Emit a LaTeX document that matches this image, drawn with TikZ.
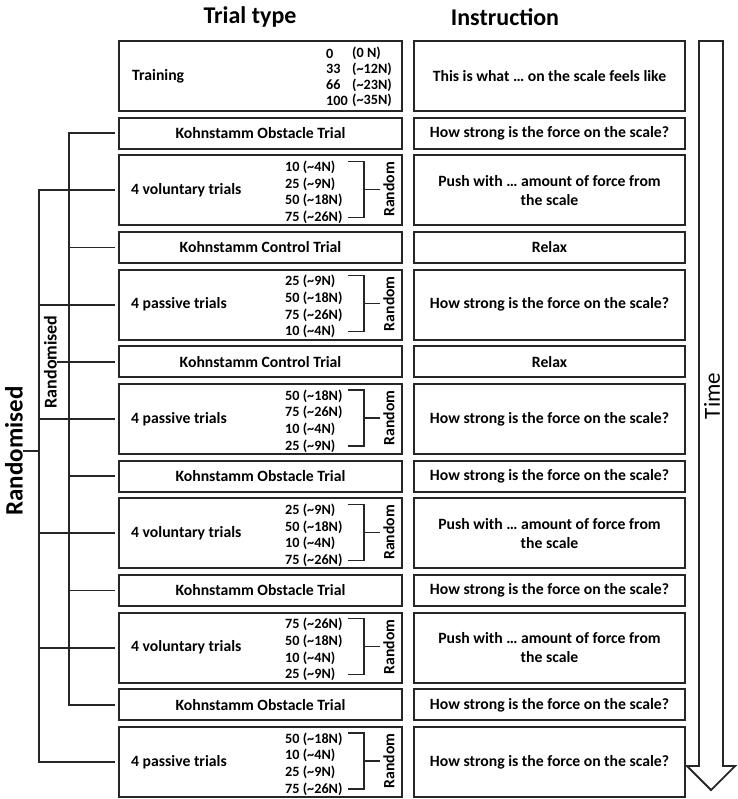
\documentclass[tikz,border=0pt]{standalone}
\usepackage{fontspec}
\setmainfont{Carlito}
\usetikzlibrary{positioning}
\definecolor{boxgray}{gray}{0.15}
\newcommand{\approxN}[1]{(\textasciitilde#1N)}
\tikzstyle{trial} = [
 rectangle,
 draw=boxgray,
 line width=1.8pt,
 minimum width=283pt,
 inner sep=0pt,
 outer sep=0pt,
 align=center,
 font=\fontsize{15.7}{19.5}\selectfont\bfseries
]
\tikzstyle{short} = [trial, minimum height=31pt]
\tikzstyle{tall} = [trial, minimum height=70pt]
\tikzstyle{instr} = [minimum width=271pt]
\tikzstyle{trialname} = [
 anchor=west,
 inner sep=0pt,
 font=\fontsize{15.7}{19.5}\selectfont\bfseries
]
\tikzstyle{values} = [
 anchor=west,
 align=left,
 inner sep=0pt,
 font=\fontsize{14.2}{16.7}\selectfont\bfseries
]
\tikzstyle{bracket} = [draw=boxgray, line width=1.8pt]
\tikzstyle{heading} = [font=\fontsize{24}{28}\selectfont\bfseries]

\begin{document}
\begin{tikzpicture}[x=1pt, y=-1pt, node distance=6.67pt]
\useasboundingbox (0,0) rectangle (737,799);

% headings
\node[heading] (hdtype) at (250,17) {Trial type};
\node[heading] (hdinstr) at (505,17) {Instruction};

% trial types
\node[tall] (train) at (260.5,76) {};
\node[short, below=of train] (obs1) {Kohnstamm Obstacle Trial};
\node[tall, below=of obs1] (vol1) {};
\node[short, below=of vol1] (ctl1) {Kohnstamm Control Trial};
\node[tall, below=of ctl1] (pas1) {};
\node[short, below=of pas1] (ctl2) {Kohnstamm Control Trial};
\node[tall, below=of ctl2] (pas2) {};
\node[short, below=of pas2] (obs2) {Kohnstamm Obstacle Trial};
\node[tall, below=of obs2] (vol2) {};
\node[short, below=of vol2] (obs3) {Kohnstamm Obstacle Trial};
\node[tall, below=of obs3] (vol3) {};
\node[short, below=of vol3] (obs4) {Kohnstamm Obstacle Trial};
\node[tall, below=of obs4] (pas3) {};

% names and forces inside the tall boxes
\node[trialname] (train-n) at ([xshift=13pt]train.west) {Training};
\node[values, font=\fontsize{14.2}{15.7}\selectfont\bfseries] (train-a) at ([shift={(207,1)}]train.west) {0\\33\\66\\100};
\node[values, font=\fontsize{14.2}{15.7}\selectfont\bfseries] (train-b) at ([shift={(233,1)}]train.west) {(0 N)\\\approxN{12}\\\approxN{23}\\\approxN{35}};

\node[trialname] (vol1-n) at ([xshift=12pt]vol1.west) {4 voluntary trials};
\node[values] (vol1-v) at ([shift={(166,2)}]vol1.west) {10 \approxN{4}\\25 \approxN{9}\\50 \approxN{18}\\75 \approxN{26}};
\node[trialname] (pas1-n) at ([xshift=12pt]pas1.west) {4 passive trials};
\node[values] (pas1-v) at ([shift={(166,2)}]pas1.west) {25 \approxN{9}\\50 \approxN{18}\\75 \approxN{26}\\10 \approxN{4}};
\node[trialname] (pas2-n) at ([xshift=12pt]pas2.west) {4 passive trials};
\node[values] (pas2-v) at ([shift={(166,2)}]pas2.west) {50 \approxN{18}\\75 \approxN{26}\\10 \approxN{4}\\25 \approxN{9}};
\node[trialname] (vol2-n) at ([xshift=12pt]vol2.west) {4 voluntary trials};
\node[values] (vol2-v) at ([shift={(166,2)}]vol2.west) {25 \approxN{9}\\50 \approxN{18}\\10 \approxN{4}\\75 \approxN{26}};
\node[trialname] (vol3-n) at ([xshift=12pt]vol3.west) {4 voluntary trials};
\node[values] (vol3-v) at ([shift={(166,2)}]vol3.west) {75 \approxN{26}\\50 \approxN{18}\\10 \approxN{4}\\25 \approxN{9}};
\node[trialname] (pas3-n) at ([xshift=12pt]pas3.west) {4 passive trials};
\node[values] (pas3-v) at ([shift={(166,2)}]pas3.west) {50 \approxN{18}\\10 \approxN{4}\\25 \approxN{9}\\75 \approxN{26}};

% random brackets
\foreach \b in {vol1,pas1,pas2,vol2,vol3,pas3} {
  \draw[bracket, line width=1.5pt] ([shift={(229,-29)}]\b.west) -- ++(16,0) -- ++(0,56) -- ++(-16,0);
  \draw[bracket, line width=1.5pt] ([shift={(245,-1)}]\b.west) -- ++(16,0);
  \node[rotate=90, inner sep=0pt, font=\fontsize{15.7}{19}\selectfont\bfseries] (\b-r) at ([shift={(270,-1)}]\b.west) {Random};
}

% instructions
\node[tall, instr, right=12pt of train] (train-i) {This is what … on the scale feels like};
\node[short, instr, right=12pt of obs1] (obs1-i) {How strong is the force on the scale?};
\node[tall, instr, right=12pt of vol1] (vol1-i) {Push with … amount of force from\\the scale};
\node[short, instr, right=12pt of ctl1] (ctl1-i) {Relax};
\node[tall, instr, right=12pt of pas1] (pas1-i) {How strong is the force on the scale?};
\node[short, instr, right=12pt of ctl2] (ctl2-i) {Relax};
\node[tall, instr, right=12pt of pas2] (pas2-i) {How strong is the force on the scale?};
\node[short, instr, right=12pt of obs2] (obs2-i) {How strong is the force on the scale?};
\node[tall, instr, right=12pt of vol2] (vol2-i) {Push with … amount of force from\\the scale};
\node[short, instr, right=12pt of obs3] (obs3-i) {How strong is the force on the scale?};
\node[tall, instr, right=12pt of vol3] (vol3-i) {Push with … amount of force from\\the scale};
\node[short, instr, right=12pt of obs4] (obs4-i) {How strong is the force on the scale?};
\node[tall, instr, right=12pt of pas3] (pas3-i) {How strong is the force on the scale?};

% randomisation brackets
\node[rotate=90, anchor=south, inner sep=0pt, font=\fontsize{25}{30}\selectfont\bfseries] (outlab) at (23,451) {Randomised};
\coordinate (ob) at (39,451);
\draw[bracket] ([xshift=-4pt]vol1.west) -| (ob) |- ([xshift=-4pt]pas3.west);
\foreach \n in {pas1,pas2,vol2,vol3}
  \draw[bracket] (ob |- \n.west) -- ([xshift=-4pt]\n.west);
\draw[bracket] (outlab.south) -- (ob);

\node[rotate=90, anchor=south, inner sep=0pt, font=\fontsize{18}{22}\selectfont\bfseries] (inlab) at (57,0 |- ctl2.west) {Randomised};
\coordinate (ib) at (69,0 |- ctl2.west);
\draw[bracket] ([xshift=-4pt]obs1.west) -| (ib) |- ([xshift=-4pt]obs4.west);
\foreach \n in {ctl1,obs2,obs3}
  \draw[bracket] (ib |- \n.west) -- ([xshift=-4pt]\n.west);
\draw[bracket] (inlab.south) -- ([xshift=-4pt]ctl2.west);

% time arrow
\draw[bracket] (699,41) -- (699,766) -- (687,766) -- (711,790) -- (735,766) -- (723,766) -- (723,41) -- cycle;
\node[rotate=90, inner sep=0pt, font=\fontsize{23}{27}\selectfont] (time) at (712,396) {Time};
\end{tikzpicture}
\end{document}
